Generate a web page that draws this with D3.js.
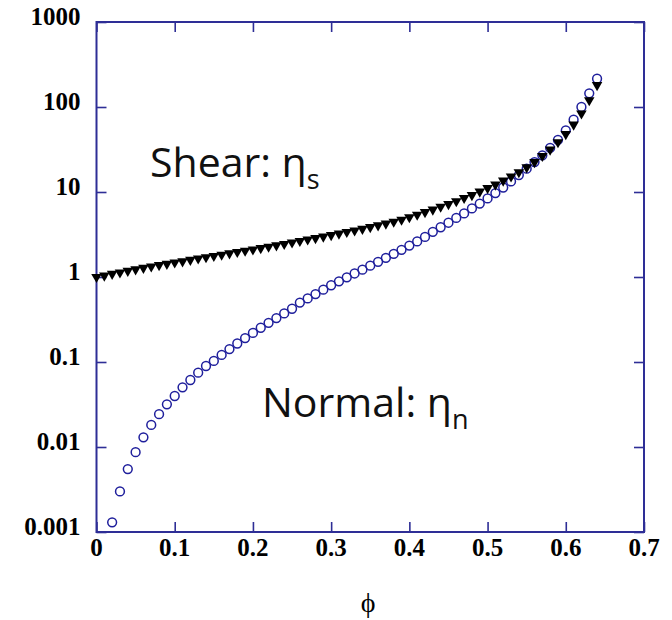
<!DOCTYPE html>
<html>
<head>
<meta charset="utf-8">
<script src="https://cdn.jsdelivr.net/npm/d3@7"></script>
<style>
  html, body { margin: 0; padding: 0; background: #fff; }
  svg { display: block; }
</style>
</head>
<body>
<script>
// Volume fraction phi for each series
const phiShear = [0.00,0.01,0.02,0.03,0.04,0.05,0.06,0.07,0.08,0.09,
  0.10,0.11,0.12,0.13,0.14,0.15,0.16,0.17,0.18,0.19,
  0.20,0.21,0.22,0.23,0.24,0.25,0.26,0.27,0.28,0.29,
  0.30,0.31,0.32,0.33,0.34,0.35,0.36,0.37,0.38,0.39,
  0.40,0.41,0.42,0.43,0.44,0.45,0.46,0.47,0.48,0.49,
  0.50,0.51,0.52,0.53,0.54,0.55,0.56,0.57,0.58,0.59,
  0.60,0.61,0.62,0.63,0.64];
// Shear viscosity eta_s
const etaShear = [1.00,1.04,1.09,1.13,1.18,1.23,1.28,1.33,1.38,1.43,
  1.48,1.53,1.59,1.65,1.71,1.77,1.83,1.90,1.97,2.04,
  2.11,2.19,2.27,2.36,2.45,2.55,2.65,2.76,2.87,2.99,
  3.11,3.24,3.38,3.53,3.69,3.86,4.05,4.25,4.47,4.71,
  5.05,5.40,5.80,6.20,6.70,7.20,7.80,8.50,9.20,10.1,
  11.1,12.2,13.6,15.2,17.1,19.5,22.5,26.5,31.5,38.5,
  48,62,84,120,181];

const phiNormal = [0.02,0.03,0.04,0.05,0.06,0.07,0.08,0.09,
  0.10,0.11,0.12,0.13,0.14,0.15,0.16,0.17,0.18,0.19,
  0.20,0.21,0.22,0.23,0.24,0.25,0.26,0.27,0.28,0.29,
  0.30,0.31,0.32,0.33,0.34,0.35,0.36,0.37,0.38,0.39,
  0.40,0.41,0.42,0.43,0.44,0.45,0.46,0.47,0.48,0.49,
  0.50,0.51,0.52,0.53,0.54,0.55,0.56,0.57,0.58,0.59,
  0.60,0.61,0.62,0.63,0.64];
// Normal viscosity eta_n
const etaNormal = [0.0013,0.0030,0.0055,0.0087,0.0130,0.0182,0.0243,0.0318,
  0.0398,0.0504,0.0614,0.0748,0.0897,0.103,0.121,0.142,0.165,0.191,
  0.220,0.253,0.289,0.329,0.373,0.423,0.50,0.56,0.63,0.71,
  0.80,0.89,0.99,1.10,1.22,1.36,1.51,1.68,1.87,2.09,
  2.34,2.62,2.96,3.40,3.85,4.35,4.95,5.60,6.40,7.30,
  8.40,9.70,11.3,13.3,15.8,18.8,22.5,27,33,41,
  53,71,100,145,215];

const xTicks = [0, 0.1, 0.2, 0.3, 0.4, 0.5, 0.6, 0.7];
const xTickLabels = ["0", "0.1", "0.2", "0.3", "0.4", "0.5", "0.6", "0.7"];
const yTicks = [0.001, 0.01, 0.1, 1, 10, 100, 1000];
const yTickLabels = ["0.001", "0.01", "0.1", "1", "10", "100", "1000"];

const W = 672, H = 620;
const plotL = 96.5, plotR = 644, plotT = 22, plotB = 532;
const axisColor = "#2e2e96";
const circleColor = "#1f1f9c";

const svg = d3.select("body").append("svg")
  .attr("width", W).attr("height", H);

const x = d3.scaleLinear().domain([0, 0.7]).range([plotL, plotR]);
const y = d3.scaleLog().domain([0.001, 1000]).range([plotB, plotT]);

// Inward ticks on all four sides
const tickLen = 10;
const axisStyle = g => {
  g.select(".domain").remove();
  g.selectAll(".tick line").attr("stroke", axisColor).attr("stroke-width", 1.6);
  g.selectAll(".tick text").remove();
};
svg.append("g").attr("transform", `translate(0,${plotB})`)
  .call(d3.axisBottom(x).tickValues(xTicks).tickSize(-tickLen)).call(axisStyle);
svg.append("g").attr("transform", `translate(0,${plotT})`)
  .call(d3.axisTop(x).tickValues(xTicks).tickSize(-tickLen)).call(axisStyle);
svg.append("g").attr("transform", `translate(${plotL},0)`)
  .call(d3.axisLeft(y).tickValues(yTicks).tickSize(-tickLen)).call(axisStyle);
svg.append("g").attr("transform", `translate(${plotR},0)`)
  .call(d3.axisRight(y).tickValues(yTicks).tickSize(-tickLen)).call(axisStyle);

// Frame
svg.append("rect")
  .attr("x", plotL).attr("y", plotT)
  .attr("width", plotR - plotL).attr("height", plotB - plotT)
  .attr("fill", "none").attr("stroke", axisColor).attr("stroke-width", 2);

// Tick labels
const labelFont = "'Liberation Serif', 'Times New Roman', serif";
svg.append("g").selectAll("text").data(xTicks).join("text")
  .attr("x", d => x(d)).attr("y", plotB + 24)
  .attr("text-anchor", "middle")
  .attr("font-family", labelFont).attr("font-weight", "bold").attr("font-size", 25)
  .text((d, i) => xTickLabels[i]);
svg.append("g").selectAll("text").data(yTicks).join("text")
  .attr("x", plotL - 16).attr("y", d => y(d) + 3)
  .attr("text-anchor", "end")
  .attr("font-family", labelFont).attr("font-weight", "bold").attr("font-size", 25)
  .text((d, i) => yTickLabels[i]);

// Axis title
svg.append("text")
  .attr("x", 368).attr("y", 612)
  .attr("text-anchor", "middle")
  .attr("font-family", "'Liberation Serif', 'DejaVu Serif', serif")
  .attr("font-size", 28)
  .text("\u03D5");

// Normal viscosity: open circles
svg.append("g").selectAll("circle").data(phiNormal).join("circle")
  .attr("cx", d => x(d))
  .attr("cy", (d, i) => y(etaNormal[i]))
  .attr("r", 4.4)
  .attr("fill", "none").attr("stroke", circleColor).attr("stroke-width", 1.5);

// Shear viscosity: filled downward triangles
const tri = d3.symbol().type(d3.symbolTriangle).size(48);
svg.append("g").selectAll("path").data(phiShear).join("path")
  .attr("d", tri)
  .attr("transform", (d, i) => `translate(${x(d)},${y(etaShear[i])}) rotate(180)`)
  .attr("fill", "#000");

// Series annotations
const noteFont = "'Open Sans', 'Noto Sans', sans-serif";
const shear = svg.append("text")
  .attr("x", 150).attr("y", 177)
  .attr("font-family", noteFont).attr("font-size", 41).attr("fill", "#111");
shear.append("tspan").text("Shear: \u03B7");
shear.append("tspan").attr("font-size", 27).attr("dy", 12).text("s");

const normal = svg.append("text")
  .attr("x", 262).attr("y", 417)
  .attr("font-family", noteFont).attr("font-size", 41).attr("fill", "#111");
normal.append("tspan").text("Normal: \u03B7");
normal.append("tspan").attr("font-size", 27).attr("dy", 12).text("n");
</script>
</body>
</html>
